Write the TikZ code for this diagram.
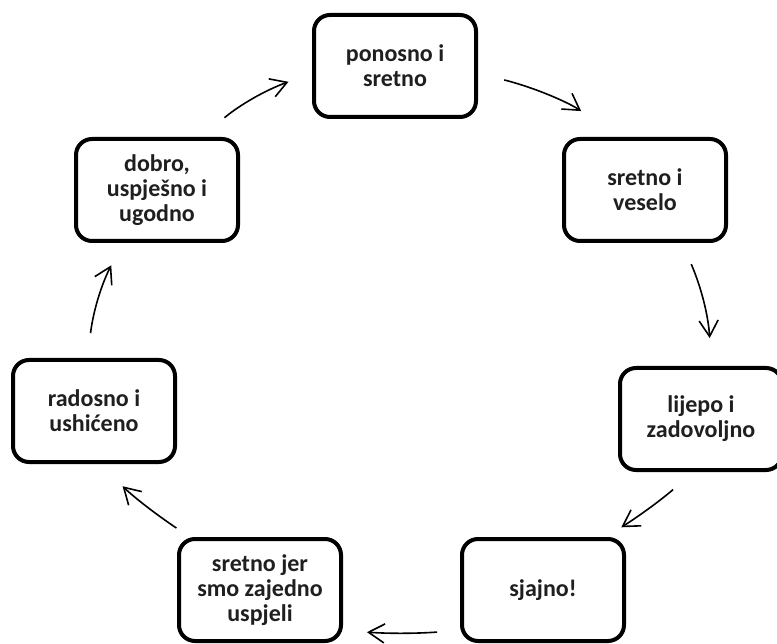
\documentclass[tikz,border=0pt]{standalone}
\usepackage{fontspec}
\setmainfont{Carlito}
\usepackage{tikz}
\usetikzlibrary{arrows.meta}

\begin{document}
\begin{tikzpicture}[x=1pt, y=1pt,
        feeling/.style={draw, line width=4pt, rounded corners=16pt, fill=white,
            minimum width=162pt, minimum height=102pt, align=center,
            font=\fontsize{24}{25}\selectfont\bfseries, text=black!88},
        flow/.style={line width=1.6pt, -{Straight Barb[length=16pt, width=19pt, line width=1.6pt]}}]
            \useasboundingbox (0,0) rectangle (777,-644);

            \node[feeling] (proud) at (395,-66) {ponosno i\\sretno};
            \node[feeling] (happy) at (645,-190) {sretno i\\veselo};
            \node[feeling] (content) at (701,-419) {lijepo i\\zadovoljno};
            \node[feeling] (great) at (543,-590) {sjajno!};
            \node[feeling] (together) at (260,-590) {sretno jer\\smo zajedno\\uspjeli};
            \node[feeling] (joyful) at (94,-411) {radosno i\\ushićeno};
            \node[feeling] (good) at (157,-190) {dobro,\\uspješno i\\ugodno};

            % arrows go round clockwise
            \draw[flow, shorten <=30pt, shorten >=25pt] (good.50) to[bend left=10] (proud.185);
            \draw[flow, shorten <=27pt, shorten >=46pt] (proud.355) to[bend left=10] (happy.116);
            \draw[flow, shorten <=23pt, shorten >=28pt] (happy.305) to[bend left=10] (content.79);
            \draw[flow, shorten <=27pt, shorten >=18pt] (content.262) to[bend left=4] (great.40);
            \draw[flow, shorten <=23pt, shorten >=24pt] (great.206) to[bend left=4] (together.334);
            \draw[flow, shorten <=16pt, shorten >=32pt] (together.143) to[bend left=5] (joyful.276);
            \draw[flow, shorten <=25pt, shorten >=25pt] (joyful.97) to[bend left=10] (good.237);
        \end{tikzpicture}
\end{document}
